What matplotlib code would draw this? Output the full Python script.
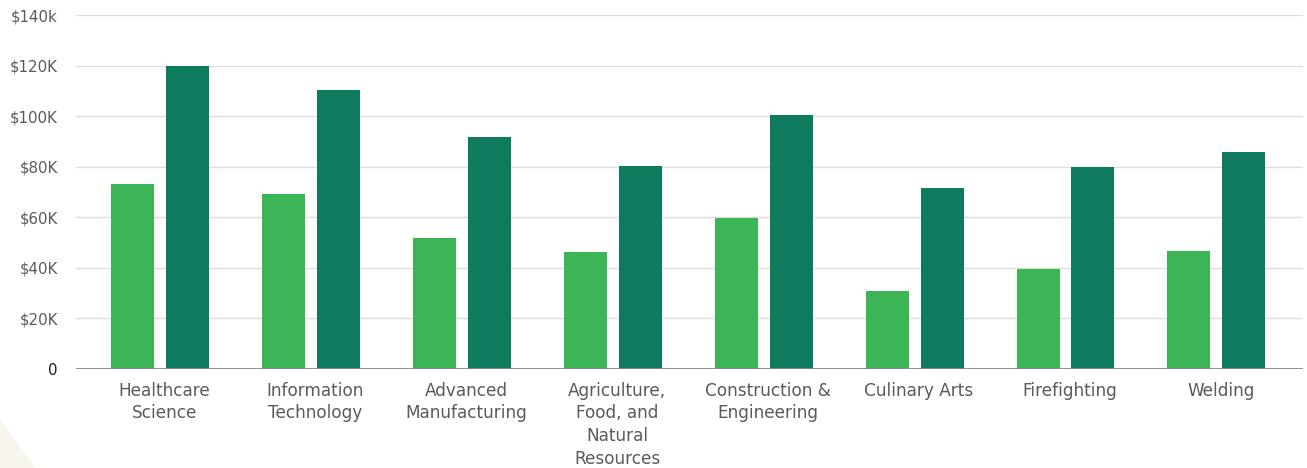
import numpy as np
import matplotlib
matplotlib.use("Agg")
import matplotlib.pyplot as plt
from matplotlib.patches import Polygon
from matplotlib.transforms import ScaledTranslation

# data (thousands of dollars)
categories = ["Healthcare\nScience", "Information\nTechnology", "Advanced\nManufacturing",
              "Agriculture,\nFood, and\nNatural\nResources", "Construction &\nEngineering",
              "Culinary Arts", "Firefighting", "Welding"]
entry_pay = [73.2, 69.2, 51.8, 46.3, 59.7, 30.8, 39.5, 46.7]
top_pay = [120.0, 110.3, 91.7, 80.3, 100.5, 71.6, 79.9, 85.8]
yticks = [0, 20, 40, 60, 80, 100, 120, 140]
ytick_labels = ["0", "$20K", "$40K", "$60K", "$80K", "$100K", "$120K", "$140k"]

light = "#3bb556"
dark = "#0e7a5e"
txt = "#5a5a5a"

plt.rcParams['font.family'] = ['DejaVu Sans']

fig = plt.figure(figsize=(13.07, 4.68), dpi=100)

# faint beige shape in the bottom left corner
fig.patches.append(Polygon([(0, 0), (0, 0.105), (0.027, 0)], closed=True,
                           transform=fig.transFigure, facecolor="#f8f5ed",
                           edgecolor="none", zorder=0))

ax = fig.add_axes([76 / 1307, 99 / 468, 1227 / 1307, 354 / 468])
ax.set_facecolor("none")

x = np.arange(len(categories))
w = 0.285
off = 0.182
ax.bar(x - off, entry_pay, width=w, color=light, zorder=3)
ax.bar(x + off, top_pay, width=w, color=dark, zorder=3)

ax.set_xlim(-0.557, 7.574)
ax.set_ylim(0, 140)
ax.set_yticks(yticks)
ax.set_yticklabels(ytick_labels)
ax.set_xticks(x)
ax.set_xticklabels(categories, linespacing=1.35)

ax.grid(axis="y", color="#dedede", linewidth=1.0, zorder=0)
ax.axhline(0, color="#888888", linewidth=2, zorder=4)

for s in ax.spines.values():
    s.set_visible(False)
ax.tick_params(axis="both", length=0)
ax.tick_params(axis="y", labelsize=10.8, labelcolor=txt, pad=13)
ax.tick_params(axis="x", labelsize=12.2, labelcolor=txt, pad=9)
ax.get_yticklabels()[0].set_color("#222222")

# labels sit a few pixels right of the bar pairs
shift = ScaledTranslation(4.5 / 100, 0, fig.dpi_scale_trans)
for lab in ax.get_xticklabels():
    lab.set_transform(lab.get_transform() + shift)

fig.savefig("out.png", dpi=100)
